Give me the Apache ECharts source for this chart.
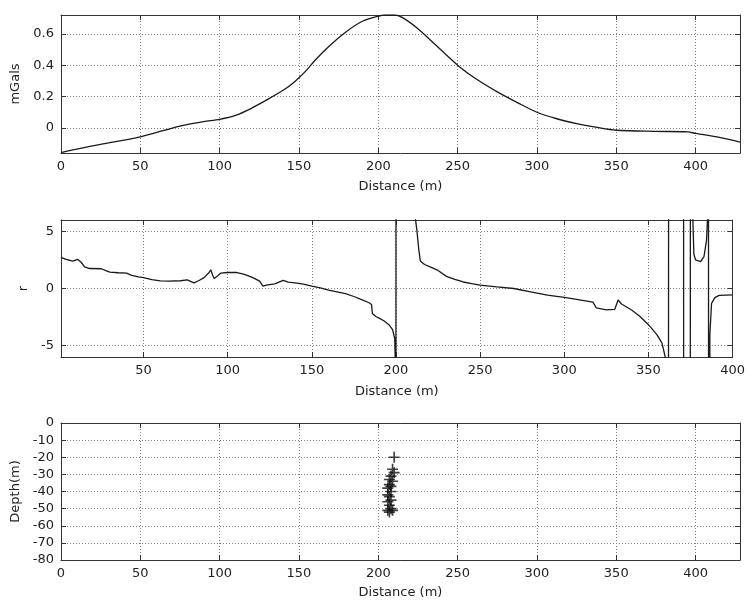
<!DOCTYPE html>
<html>
<head>
<meta charset="utf-8">
<script src="https://cdn.jsdelivr.net/npm/echarts@6/dist/echarts.min.js"></script>
<style>html,body{margin:0;padding:0;background:#fff;}#c{width:748px;height:603px;}</style>
</head>
<body>
<div id="c"></div>
<script>
// ---- Panel 1: gravity anomaly (mGals) vs distance ----
var gravDist = [0, 10, 25, 50, 75, 90, 100, 110, 120, 130, 140, 145, 150, 155, 160, 170, 180, 190, 200, 205, 210, 215, 225, 235, 250, 262, 275, 288, 300, 312, 325, 337, 350, 375, 395, 400, 415, 428];
var gravVal  = [-0.157, -0.135, -0.105, -0.057, 0.012, 0.04, 0.055, 0.08, 0.125, 0.18, 0.24, 0.275, 0.32, 0.37, 0.43, 0.53, 0.615, 0.68, 0.713, 0.72, 0.72, 0.705, 0.633, 0.54, 0.40, 0.31, 0.23, 0.16, 0.10, 0.06, 0.028, 0.005, -0.015, -0.022, -0.025, -0.035, -0.06, -0.09];

// ---- Panel 2: ratio r vs distance ----
var rDist = [1, 4, 8, 11, 12, 13, 15, 18, 25, 28, 30, 35, 40, 43, 47, 50, 55, 60, 65, 72, 76, 80, 83, 86, 89, 90, 91, 92, 94, 96, 100, 105, 110, 115, 119, 121, 123, 128, 133, 136, 140, 145, 150, 155, 160, 165, 170, 175, 180, 184, 185.5, 186, 188, 190, 193, 196, 198, 199.3, 199.8, 199.95, 200.05, 205, 210, 211.5, 212.5, 213.5, 214.5, 217, 221, 225, 230, 235, 240, 245, 250, 260, 270, 280, 290, 300, 310, 317, 319, 325, 330, 332, 334, 340, 345, 350, 355, 358, 360, 361.8, 362.1, 366, 370.8, 371, 374.8, 375, 376, 377, 378, 381, 383, 384.5, 385.4, 385.6, 385.8, 386.5, 387.5, 389.5, 392, 400];
var rVal  = [2.73, 2.55, 2.4, 2.55, 2.7, 2.3, 1.9, 1.75, 1.73, 1.55, 1.44, 1.38, 1.35, 1.15, 1.02, 0.95, 0.78, 0.66, 0.65, 0.68, 0.75, 0.49, 0.7, 0.95, 1.4, 1.64, 1.2, 0.87, 1.1, 1.35, 1.4, 1.42, 1.24, 0.95, 0.65, 0.2, 0.3, 0.4, 0.72, 0.55, 0.49, 0.38, 0.2, 0.05, -0.15, -0.3, -0.45, -0.7, -1.0, -1.25, -1.4, -2.2, -2.45, -2.6, -2.85, -3.2, -3.6, -4.4, -8, -60, 60, 40, 12, 6.2, 5, 3.5, 2.4, 2.1, 1.85, 1.58, 1.06, 0.8, 0.57, 0.42, 0.29, 0.14, 0.0, -0.29, -0.58, -0.78, -1.01, -1.2, -1.7, -1.88, -1.82, -1.01, -1.36, -1.88, -2.45, -3.17, -4.04, -4.76, -6, -60, 60, 60, 60, -60, -60, 60, 8, 3, 2.5, 2.35, 2.8, 4.2, 7, 60, -60, -4, -1.3, -0.8, -0.6, -0.55];

// ---- Panel 3: source depth solutions ----
var solDist  = [210, 209, 210, 208, 207, 209, 207, 208, 206, 208, 206, 207, 208, 206, 207, 208, 206, 209, 207];
var solDepth = [-20, -27, -29, -31, -33, -34, -36, -37, -38, -40, -42, -43, -45, -46, -48, -50, -51, -51, -52];

// ---- tick labels ----
var xTicks1 = [0, 50, 100, 150, 200, 250, 300, 350, 400];
var xTicks2 = [50, 100, 150, 200, 250, 300, 350, 400];
var yTicks1 = [0, 0.2, 0.4, 0.6];
var yTicks2 = [-5, 0, 5];
var yTicks3 = [0, -10, -20, -30, -40, -50, -60, -70, -80];

var FONT = 'DejaVu Sans';
var TXT = '#222';
var AX = '#333';

function zip(a, b) { return a.map(function (v, i) { return [v, b[i]]; }); }

var grids = [
  { left: 61, right: 8, top: 15, height: 138 },
  { left: 61, right: 8, top: 220, height: 137 },
  { left: 61, right: 8, top: 423, height: 137 }
];

function xAx(g, min, max, ticks, gap, secondary) {
  return {
    type: 'value', gridIndex: g, min: min, max: max,
    position: secondary ? 'top' : 'bottom',
    name: secondary ? '' : 'Distance (m)',
    nameLocation: 'middle', nameGap: gap,
    nameTextStyle: { fontFamily: FONT, fontSize: 13, color: TXT },
    axisLine: { show: true, onZero: false, lineStyle: { color: AX, width: 1 } },
    axisTick: { show: true, inside: true, length: 5, customValues: ticks, lineStyle: { color: AX } },
    axisLabel: { show: !secondary, customValues: ticks, margin: 7, fontFamily: FONT, fontSize: 13, color: TXT },
    splitLine: { show: !secondary, lineStyle: { color: '#808080', type: [1, 2], width: 1 } }
  };
}
function yAx(g, min, max, ticks, name, gap, secondary) {
  return {
    type: 'value', gridIndex: g, min: min, max: max,
    position: secondary ? 'right' : 'left',
    name: secondary ? '' : name,
    nameLocation: 'middle', nameGap: gap, nameRotate: 90,
    nameTextStyle: { fontFamily: FONT, fontSize: 13, color: TXT },
    axisLine: { show: true, onZero: false, lineStyle: { color: AX, width: 1 } },
    axisTick: { show: true, inside: true, length: 5, customValues: ticks, lineStyle: { color: AX } },
    axisLabel: { show: !secondary, customValues: ticks, margin: 7, fontFamily: FONT, fontSize: 13, color: TXT },
    splitLine: { show: !secondary, lineStyle: { color: '#808080', type: [1, 2], width: 1 } }
  };
}

var plusPath = 'path://M-1.5,-10 H1.5 V-1.5 H10 V1.5 H1.5 V10 H-1.5 V1.5 H-10 V-1.5 H-1.5 Z';

var option = {
  animation: false,
  backgroundColor: '#fff',
  grid: grids,
  xAxis: [
    xAx(0, 0, 428, xTicks1, 27, false),
    xAx(1, 1, 400, xTicks2, 28, false),
    xAx(2, 0, 428, xTicks1, 26, false),
    xAx(0, 0, 428, xTicks1, 0, true),
    xAx(1, 1, 400, xTicks2, 0, true),
    xAx(2, 0, 428, xTicks1, 0, true)
  ],
  yAxis: [
    yAx(0, -0.16, 0.72, yTicks1, 'mGals', 36, false),
    yAx(1, -6, 6, yTicks2, 'r', 31, false),
    yAx(2, -80, 0, yTicks3, 'Depth(m)', 39, false),
    yAx(0, -0.16, 0.72, yTicks1, '', 0, true),
    yAx(1, -6, 6, yTicks2, '', 0, true),
    yAx(2, -80, 0, yTicks3, '', 0, true)
  ],
  series: [
    {
      type: 'line', xAxisIndex: 0, yAxisIndex: 0, data: zip(gravDist, gravVal),
      smooth: 0.3, showSymbol: false, clip: true,
      lineStyle: { color: '#1a1a1a', width: 1.3 }
    },
    {
      type: 'line', xAxisIndex: 1, yAxisIndex: 1, data: zip(rDist, rVal),
      smooth: false, showSymbol: false, clip: true,
      lineStyle: { color: '#1a1a1a', width: 1.3 }
    },
    {
      type: 'scatter', xAxisIndex: 2, yAxisIndex: 2, data: zip(solDist, solDepth),
      symbol: plusPath, symbolSize: 11,
      itemStyle: { color: '#111' }
    }
  ]
};

var chart = echarts.init(document.getElementById('c'), null, { renderer: 'canvas' });
chart.setOption(option);
</script>
</body>
</html>
